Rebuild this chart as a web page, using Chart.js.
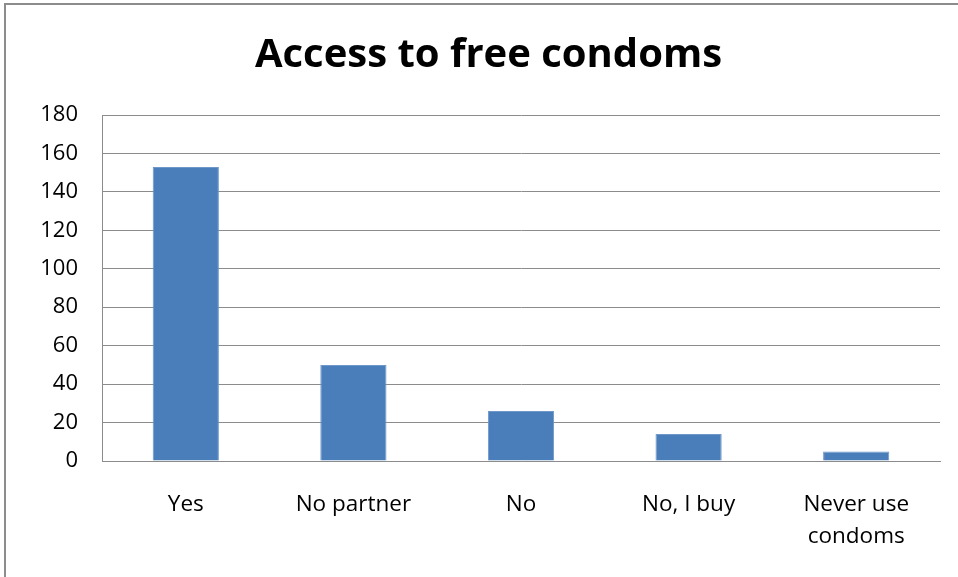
<!DOCTYPE html>
<html><head><meta charset="utf-8">
<script src="https://cdn.jsdelivr.net/npm/chart.js@4/dist/chart.umd.min.js"></script>
<style>
html,body{margin:0;padding:0;background:#fff;width:958px;height:577px;overflow:hidden}
#frame{position:absolute;left:4px;top:3px;width:960px;height:580px;border-top:2px solid #8c8c8c;border-left:2px solid #8c8c8c;box-sizing:border-box}
#wrap{position:absolute;left:0;top:0;width:958px;height:577px}
</style></head>
<body>
<div id="frame"></div>
<div id="wrap"><canvas id="c" width="958" height="577"></canvas></div>
<script>
const titleText = "Access to free condoms";
const categories = ["Yes", "No partner", "No", "No, I buy", ["Never use", "condoms"]];
const values = [153, 50, 26, 14, 5];
const yTicks = [0, 20, 40, 60, 80, 100, 120, 140, 160, 180];

const FONT = "'Open Sans', Lato, sans-serif";
new Chart(document.getElementById('c'), {
  type: 'bar',
  data: {
    labels: categories,
    datasets: [{
      data: values,
      backgroundColor: '#4a7ebb',
      borderColor: '#6f97c9',
      borderWidth: 1,
      barPercentage: 1,
      categoryPercentage: 0.395
    }]
  },
  options: {
    responsive: false,
    animation: false,
    layout: { padding: { left: 37, right: 18, top: 0, bottom: 0 } },
    plugins: {
      legend: { display: false },
      tooltip: { enabled: false },
      title: {
        display: true,
        text: titleText,
        color: '#000',
        font: { family: FONT, size: 40, weight: 'bold', lineHeight: 1.2 },
        padding: { top: 32, bottom: 35 }
      }
    },
    scales: {
      x: {
        grid: { display: false, drawTicks: false },
        border: { display: true, color: '#8c8c8c', width: 1 },
        ticks: {
          color: '#000',
          font: { family: FONT, size: 22.5, lineHeight: 1.42 },
          padding: 28,
          maxRotation: 0,
          autoSkip: false
        },
        afterFit(s) { s.height = 116; }
      },
      y: {
        min: 0, max: 180,
        afterBuildTicks(s) { s.ticks = yTicks.map(v => ({ value: v })); },
        grid: { color: '#8c8c8c', lineWidth: 1, drawTicks: false },
        border: { display: true, color: '#8c8c8c', width: 1 },
        ticks: {
          color: '#000',
          font: { family: FONT, size: 22 },
          padding: 24
        },
        afterFit(s) { s.width = 65; }
      }
    }
  }
});
</script>
</body></html>
